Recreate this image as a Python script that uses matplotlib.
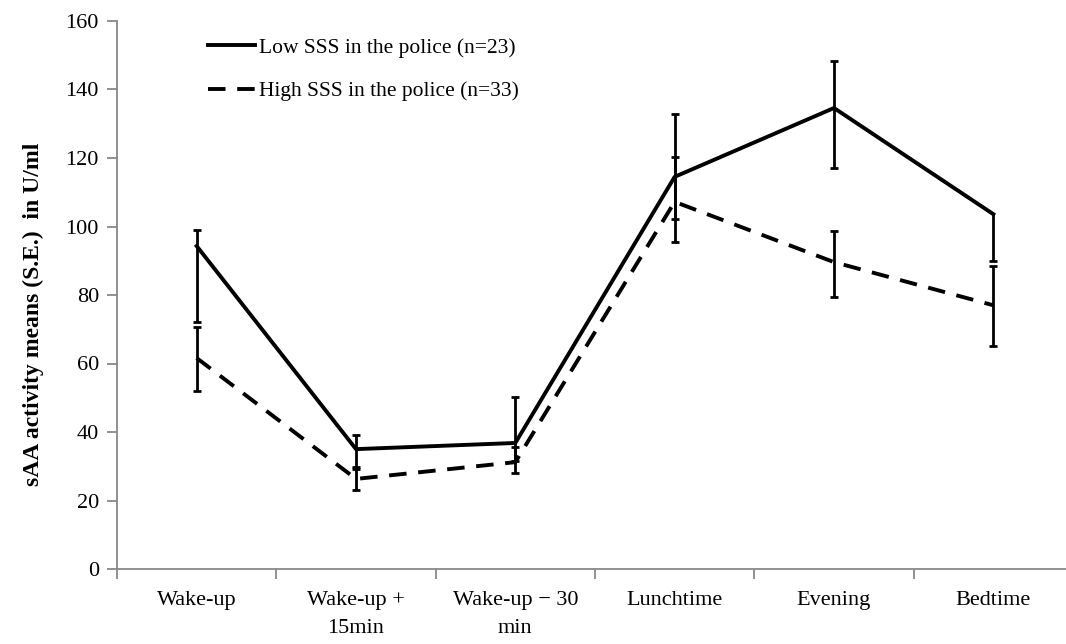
import numpy as np
import matplotlib
matplotlib.use("Agg")
import matplotlib.pyplot as plt

categories = ["Wake-up", "Wake-up +\n15min", "Wake-up \u2212 30\nmin", "Lunchtime", "Evening", "Bedtime"]

low_mean = [94.3, 35.0, 36.8, 114.5, 134.6, 103.6]
low_err_up = [4.7, 4.0, 13.4, 18.3, 13.7, 0.0]
low_err_down = [22.3, 5.3, 5.3, 12.3, 17.6, 13.6]

high_mean = [61.6, 26.3, 31.2, 107.2, 89.6, 77.0]
high_err_up = [9.0, 3.0, 4.4, 13.0, 9.1, 11.5]
high_err_down = [9.6, 3.3, 3.2, 11.7, 10.2, 12.0]

yticks = [0, 20, 40, 60, 80, 100, 120, 140, 160]

plt.rcParams['font.family'] = ['Liberation Serif', 'DejaVu Serif']

fig = plt.figure(figsize=(10.66, 6.44), dpi=100)
ax = fig.add_axes([117 / 1066, 75 / 644, 956 / 1066, 548 / 644])

x = np.arange(len(categories))


def draw_errors(ax, x, y, up, down, cap=0.025):
    y = np.asarray(y)
    up = np.asarray(up)
    down = np.asarray(down)
    ax.vlines(x, y - down, y + up, color='black', linewidth=2.0, zorder=2)
    m = up > 0
    ax.hlines((y + up)[m], x[m] - cap, x[m] + cap, color='black', linewidth=2.0, zorder=2)
    m = down > 0
    ax.hlines((y - down)[m], x[m] - cap, x[m] + cap, color='black', linewidth=2.0, zorder=2)


ax.plot(x, low_mean, color='black', linewidth=2.8, solid_joinstyle='round',
        label='Low SSS in the police (n=23)', zorder=3)
ax.plot(x, high_mean, color='black', linewidth=2.8, linestyle=(0, (4.5, 3)),
        label='High SSS in the police (n=33)', zorder=3)
draw_errors(ax, x, low_mean, low_err_up, low_err_down)
draw_errors(ax, x, high_mean, high_err_up, high_err_down)

ax.set_xlim(-0.5, len(categories) - 0.5)
ax.set_ylim(0, 160)
ax.set_yticks(yticks)

ax.set_xticks(x)
ax.set_xticklabels(categories, fontsize=16, linespacing=1.65)
ax.set_xticks(np.arange(len(categories)) - 0.5, minor=True)
ax.tick_params(axis='x', which='major', length=0, pad=16)
ax.tick_params(axis='x', which='minor', length=7, color='#888888', width=1.3, direction='out')
ax.tick_params(axis='y', length=7, color='#888888', width=1.3, direction='out', labelsize=16, pad=6)

for side in ['top', 'right']:
    ax.spines[side].set_visible(False)
for side in ['left', 'bottom']:
    ax.spines[side].set_color('#888888')
    ax.spines[side].set_linewidth(1.3)

ax.set_ylabel('sAA activity means (S.E.)  in U/ml', fontsize=17, fontweight='bold')
ax.yaxis.set_label_coords(-0.076, 0.465)

ax.legend(loc='upper left', bbox_to_anchor=(0.075, 1.005), frameon=False, fontsize=15.5,
          handlelength=2.2, handletextpad=0.15, labelspacing=1.1)

fig.savefig('out.png', dpi=100)
